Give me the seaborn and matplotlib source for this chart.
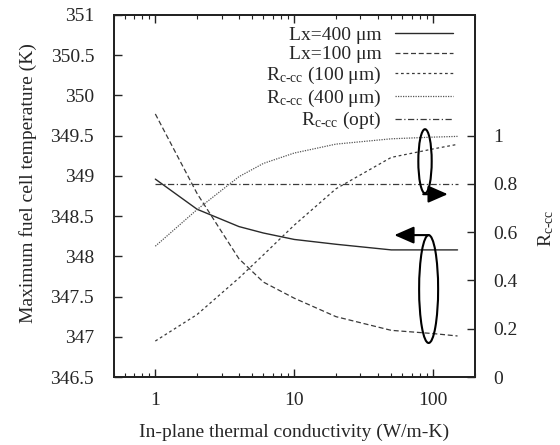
import numpy as np
import pandas as pd
import matplotlib
matplotlib.use("Agg")
import matplotlib.pyplot as plt
from matplotlib.patches import Ellipse
from matplotlib.ticker import LogLocator, NullFormatter
import seaborn as sns

# In-plane thermal conductivity (W/m-K)
conductivity = [1, 2, 4, 6, 10, 20, 50, 100, 150]

# Maximum fuel cell temperature (K)
temp_lx400 = [348.96, 348.585, 348.37, 348.29, 348.21, 348.15, 348.08, 348.08, 348.08]
temp_lx100 = [349.77, 348.78, 347.97, 347.68, 347.48, 347.25, 347.08, 347.04, 347.01]

# Contact-resistance ratio R_c-cc
rcc_100 = [0.149, 0.259, 0.41, 0.506, 0.629, 0.78, 0.91, 0.945, 0.964]
rcc_400 = [0.542, 0.694, 0.83, 0.885, 0.928, 0.965, 0.987, 0.994, 0.997]
rcc_opt = [0.80] * len(conductivity)

left_ticks = [346.5, 347, 347.5, 348, 348.5, 349, 349.5, 350, 350.5, 351]
left_tick_labels = ["346.5", "347", "347.5", "348", "348.5", "349", "349.5", "350", "350.5", "351"]
right_ticks = [0, 0.2, 0.4, 0.6, 0.8, 1.0]
right_tick_labels = ["0", "0.2", "0.4", "0.6", "0.8", "1"]
x_ticks = [1, 10, 100]
x_tick_labels = ["1", "10", "100"]

sub = r"$_{\mathrm{c\text{-}cc}}$"
labels = ["Lx=400 μm", "Lx=100 μm", "R" + sub + " (100 μm)", "R" + sub + " (400 μm)", "R" + sub + " (opt)"]

sns.set_style("ticks")
plt.rcParams["font.family"] = ["Liberation Serif", "DejaVu Serif"]
plt.rcParams["mathtext.fontset"] = "custom"
plt.rcParams["mathtext.rm"] = "Liberation Serif"
plt.rcParams["mathtext.it"] = "Liberation Serif:italic"

df = pd.DataFrame({"k": conductivity, "t400": temp_lx400, "t100": temp_lx100,
                   "r100": rcc_100, "r400": rcc_400, "ropt": rcc_opt})

fig = plt.figure(figsize=(5.6, 4.45), dpi=100)
ax = fig.add_axes([0.2027, 0.1528, 0.6453, 0.8135])
ax2 = ax.twinx()

line_col = "#3a3a3a"
lw = 0.9
sns.lineplot(data=df, x="k", y="t400", ax=ax, color="#2a2a2a", lw=1.0, legend=False, label=labels[0])
sns.lineplot(data=df, x="k", y="t100", ax=ax, color=line_col, lw=lw, legend=False,
             linestyle=(0, (4, 2.2)), label=labels[1])
sns.lineplot(data=df, x="k", y="r100", ax=ax2, color=line_col, lw=lw, legend=False,
             linestyle=(0, (2.2, 2.2)), label=labels[2])
sns.lineplot(data=df, x="k", y="r400", ax=ax2, color="#555555", lw=lw, legend=False,
             linestyle=(0, (1, 1)), label=labels[3])
sns.lineplot(data=df, x="k", y="ropt", ax=ax2, color=line_col, lw=lw, legend=False,
             linestyle=(0, (5, 2, 1, 2)), label=labels[4])

ax.set_xscale("log")
ax.set_xlim(0.5, 200)
ax.set_ylim(346.5, 351)
ax2.set_ylim(0, 1.5)

ax.set_xticks(x_ticks, labels=x_tick_labels)
ax.xaxis.set_minor_locator(LogLocator(base=10, subs=np.arange(2, 10)))
ax.xaxis.set_minor_formatter(NullFormatter())
ax.set_yticks(left_ticks, labels=left_tick_labels)
ax2.set_yticks(right_ticks, labels=right_tick_labels)

fs = 14
ax.tick_params(axis="x", which="both", direction="in", top=True, labelsize=fs, pad=11, color="#222222")
ax.tick_params(axis="x", which="major", length=6, width=1)
ax.tick_params(axis="x", which="minor", length=3, width=0.8)
ax.tick_params(axis="y", which="major", direction="in", left=True, right=False,
               length=6, width=1, labelsize=fs, pad=14)
ax2.tick_params(axis="y", which="major", direction="in", right=True, left=False,
                length=6, width=1, labelsize=fs, pad=13)

for a in (ax, ax2):
    for s in a.spines.values():
        s.set_linewidth(1.3)
        s.set_color("#222222")

ax.set_xlabel("In-plane thermal conductivity (W/m-K)", fontsize=fs)
ax.set_ylabel("Maximum fuel cell temperature (K)", fontsize=fs)
ax2.set_ylabel("R" + sub, fontsize=fs)
ax.xaxis.set_label_coords(0.5, -0.13)
ax.yaxis.set_label_coords(-0.212, 0.536)
ax2.yaxis.set_label_coords(1.17, 0.41)

handles = ax.get_lines()[:2] + ax2.get_lines()[:3]
leg = ax2.legend(handles, labels, loc="upper right", bbox_to_anchor=(0.94, 0.968),
                 frameon=False, markerfirst=False, fontsize=fs, handlelength=3.0,
                 handletextpad=0.7, labelspacing=0.08, borderaxespad=0, borderpad=0)

# Grouping ellipses with direction arrows
tr = ax2.transAxes
ax2.add_patch(Ellipse((0.862, 0.596), 0.037, 0.177, transform=tr, fill=False,
                      lw=1.5, ec="black", zorder=5))
ax2.add_patch(Ellipse((0.872, 0.243), 0.0526, 0.298, transform=tr, fill=False,
                      lw=1.5, ec="black", zorder=5))
arrow = dict(arrowstyle="-|>,head_length=0.8,head_width=0.35", color="black",
             lw=1.5, mutation_scale=15, shrinkA=0, shrinkB=0)
ax2.annotate("", xy=(0.925, 0.505), xytext=(0.857, 0.505), xycoords=tr, textcoords=tr,
             arrowprops=arrow, zorder=6)
ax2.annotate("", xy=(0.777, 0.392), xytext=(0.872, 0.392), xycoords=tr, textcoords=tr,
             arrowprops=arrow, zorder=6)

fig.savefig("out.png", dpi=100)
